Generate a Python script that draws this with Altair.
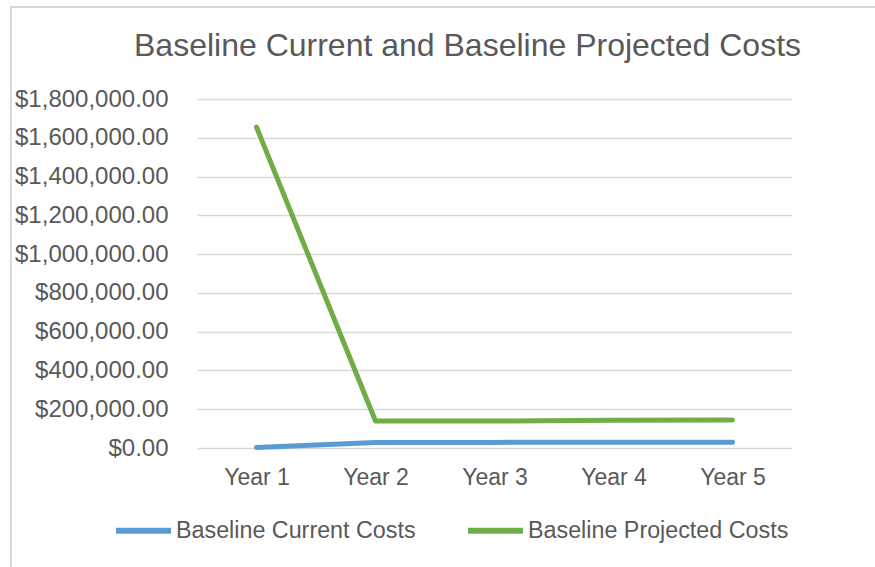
import altair as alt
import pandas as pd

years = ["Year 1", "Year 2", "Year 3", "Year 4", "Year 5"]
current_costs = [3000, 28000, 29000, 30000, 30000]
projected_costs = [1655000, 139000, 139000, 143000, 145000]
series_names = ["Baseline Current Costs", "Baseline Projected Costs"]
series_colors = ["#5B9BD5", "#70AD47"]
y_ticks = [0, 200000, 400000, 600000, 800000, 1000000, 1200000, 1400000, 1600000, 1800000]
title_text = "Baseline Current and Baseline Projected Costs"

rows = []
for i, y in enumerate(years):
    rows.append({"Year": y, "Series": series_names[0], "Cost": current_costs[i]})
    rows.append({"Year": y, "Series": series_names[1], "Cost": projected_costs[i]})
df = pd.DataFrame(rows)

FONT = "Liberation Sans"
TXT = "#595959"

lines = alt.Chart(df).mark_line(strokeWidth=5, strokeCap="round", strokeJoin="round").encode(
    x=alt.X("Year:N", sort=years, title=None,
            axis=alt.Axis(labelAngle=0, domain=False, ticks=False, grid=False,
                          labelFontSize=23, labelColor=TXT, labelFont=FONT, labelPadding=18)),
    y=alt.Y("Cost:Q", scale=alt.Scale(domain=[0, 1800000], nice=False), title=None,
            axis=alt.Axis(values=y_ticks, format="$,.2f", domain=False, ticks=False,
                          labelFontSize=24, labelColor=TXT, labelFont=FONT, labelPadding=29,
                          gridColor="#D9D9D9", gridWidth=1.5)),
    color=alt.Color("Series:N", scale=alt.Scale(domain=series_names, range=series_colors),
                    legend=alt.Legend(title=None, orient="none", direction="horizontal",
                                      legendX=-84, legendY=401, symbolType="stroke",
                                      symbolSize=3025, symbolStrokeWidth=6,
                                      labelFontSize=23.3, labelColor=TXT, labelFont=FONT,
                                      labelLimit=500, labelOffset=2, columnPadding=40)),
)

border = alt.Chart(alt.Data(values=[{"a": 1}])).mark_rect(
    fill="transparent", stroke="#D9D9D9", strokeWidth=2
).encode(
    x=alt.value(-186), x2=alt.value(700), y=alt.value(-92), y2=alt.value(500)
)

title = alt.Chart(alt.Data(values=[{"t": title_text}])).mark_text(
    fontSize=32, font=FONT, color=TXT, align="center", baseline="middle"
).encode(
    text="t:N", x=alt.value(270.5), y=alt.value(-53)
)

chart = alt.layer(border, lines, title).properties(
    width=595, height=349,
    autosize=alt.AutoSizeParams(type="none"),
    padding={"left": 197, "top": 99, "right": 83, "bottom": 119},
).configure(background="white").configure_view(stroke=None)

chart.save("out.html", embed_options={"renderer": "svg", "actions": False})
